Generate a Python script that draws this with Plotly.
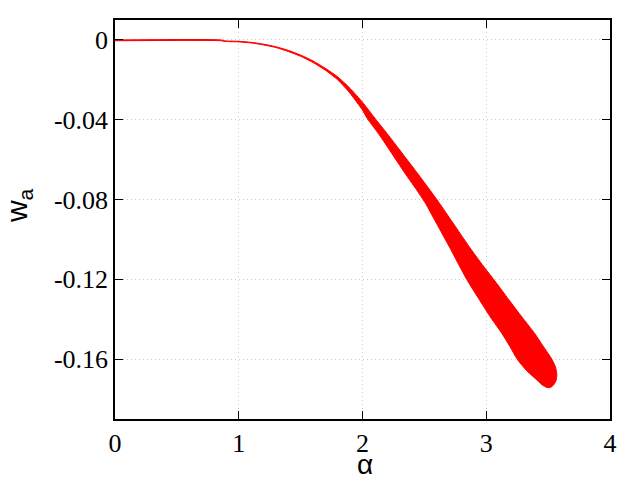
import plotly.graph_objects as go

# Upper (right) edge of the point cloud, alpha ascending
alpha_upper = [0.00, 0.86, 0.88, 1.00, 1.10, 1.20, 1.30, 1.40, 1.50, 1.60, 1.70, 1.80, 1.90,
               2.00, 2.10, 2.20, 2.30, 2.44, 2.53, 2.61, 2.69, 2.87, 2.976, 3.07, 3.18, 3.29,
               3.39, 3.46, 3.53, 3.56, 3.57, 3.565, 3.55, 3.53]
w_upper = [0.0, 0.0, -0.0004, -0.0007, -0.0012, -0.0021, -0.0034, -0.0052, -0.0076, -0.0105,
           -0.0142, -0.0185, -0.0243, -0.0312, -0.0392, -0.0470, -0.0551, -0.0665, -0.0740,
           -0.0808, -0.0880, -0.1043, -0.1133, -0.1208, -0.1300, -0.1390, -0.1470, -0.1535,
           -0.1600, -0.1640, -0.1675, -0.1705, -0.1725, -0.1738]

# Lower (left) edge of the point cloud, alpha descending
alpha_lower = [3.51, 3.49, 3.45, 3.41, 3.33, 3.25, 3.19, 3.125, 3.04, 2.947, 2.842, 2.70,
               2.572, 2.505, 2.43, 2.343, 2.222, 2.12, 2.04, 2.00, 1.90, 1.80, 1.70, 1.60,
               1.50, 1.40, 1.30, 1.20, 1.10, 1.00, 0.88, 0.86, 0.00]
w_lower = [-0.1743, -0.1742, -0.1728, -0.1705, -0.1660, -0.1600, -0.1535, -0.1470, -0.1395,
           -0.1305, -0.1200, -0.1035, -0.0890, -0.0815, -0.0745, -0.0668, -0.0555, -0.0462,
           -0.0395, -0.0352, -0.0268, -0.0200, -0.0152, -0.0113, -0.0082, -0.0058, -0.0038,
           -0.0025, -0.0015, -0.0010, -0.0007, -0.0004, -0.0004]

x_ticks = [0, 1, 2, 3, 4]
y_ticks = [0, -0.04, -0.08, -0.12, -0.16]
y_tick_text = ["0", "-0.04", "-0.08", "-0.12", "-0.16"]

fig = go.Figure()
fig.add_trace(go.Scatter(
    x=alpha_upper + alpha_lower,
    y=w_upper + w_lower,
    mode="lines",
    fill="toself",
    fillcolor="#ff0000",
    line=dict(color="#ff0000", width=1, shape="spline", smoothing=0.6),
    hoverinfo="skip",
    showlegend=False,
))

tick_font = dict(family="Liberation Serif", size=26, color="black")
grid_style = dict(showgrid=True, gridcolor="#cccccc", griddash="1px,3px", gridwidth=1)

fig.update_layout(
    width=640, height=480,
    margin=dict(l=115, r=30, t=20, b=61),
    paper_bgcolor="white", plot_bgcolor="white",
    showlegend=False,
    xaxis=dict(
        range=[0, 4], tickvals=x_ticks, ticktext=[str(v) for v in x_ticks],
        ticks="inside", ticklen=8, tickcolor="black", tickwidth=1,
        showline=True, linecolor="black", linewidth=1.5, mirror="ticks",
        zeroline=False, tickfont=tick_font, **grid_style,
    ),
    yaxis=dict(
        range=[-0.19, 0.01], tickvals=y_ticks, ticktext=y_tick_text,
        ticks="inside", ticklen=8, tickcolor="black", tickwidth=1,
        showline=True, linecolor="black", linewidth=1.5, mirror="ticks",
        zeroline=False, tickfont=tick_font, **grid_style,
    ),
    annotations=[
        dict(text="α", xref="paper", yref="paper", x=0.505, y=-0.115,
             xanchor="center", yanchor="middle", showarrow=False,
             font=dict(family="Liberation Sans", size=28, color="black")),
        dict(text="w<sub>a</sub>", xref="paper", yref="paper", x=-0.196, y=0.536,
             xanchor="center", yanchor="middle", showarrow=False, textangle=-90,
             font=dict(family="Liberation Sans", size=30, color="black")),
    ],
)

fig.write_html("out.html", config={"displayModeBar": False},
               post_script="document.body.style.margin='0';document.body.style.padding='0';")
